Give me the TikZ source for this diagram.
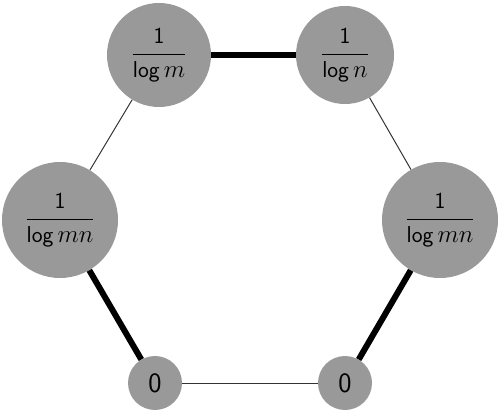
\documentclass[tikz,border=0pt]{standalone}
\usepackage{amsmath,amssymb,tkz-graph}

\begin{document}
\begin{tikzpicture}
[x=1pt,y=1pt,auto=left,every node/.style={circle,fill=black!40,inner sep=0pt,font=\fontsize{23}{27}\selectfont\sffamily}]
\useasboundingbox (0,0) rectangle (502,417);
\node[minimum size=104pt] (lm) at (159,362) {$\dfrac{\textsf{1}}{\textsf{log}\,m}$};
\node[minimum size=98pt] (ln) at (345,362) {$\dfrac{\textsf{1}}{\textsf{log}\,n}$};
\node[minimum size=116pt] (lmnl) at (60,197) {$\dfrac{\textsf{1}}{\textsf{log}\,mn}$};
\node[minimum size=116pt] (lmnr) at (440,197) {$\dfrac{\textsf{1}}{\textsf{log}\,mn}$};
\node[minimum size=54pt,font=\fontsize{28}{32}\selectfont\sffamily] (zl) at (155,34) {0};
\node[minimum size=54pt,font=\fontsize{28}{32}\selectfont\sffamily] (zr) at (345,34) {0};
\tikzset{EdgeStyle/.style={line width=6pt,black}}
\Edge(lm)(ln)
\Edge(lmnl)(zl)
\Edge(lmnr)(zr)
\tikzset{EdgeStyle/.style={line width=1pt,black!80}}
\Edge(lm)(lmnl)
\Edge(ln)(lmnr)
\Edge(zl)(zr)
\end{tikzpicture}
\end{document}
